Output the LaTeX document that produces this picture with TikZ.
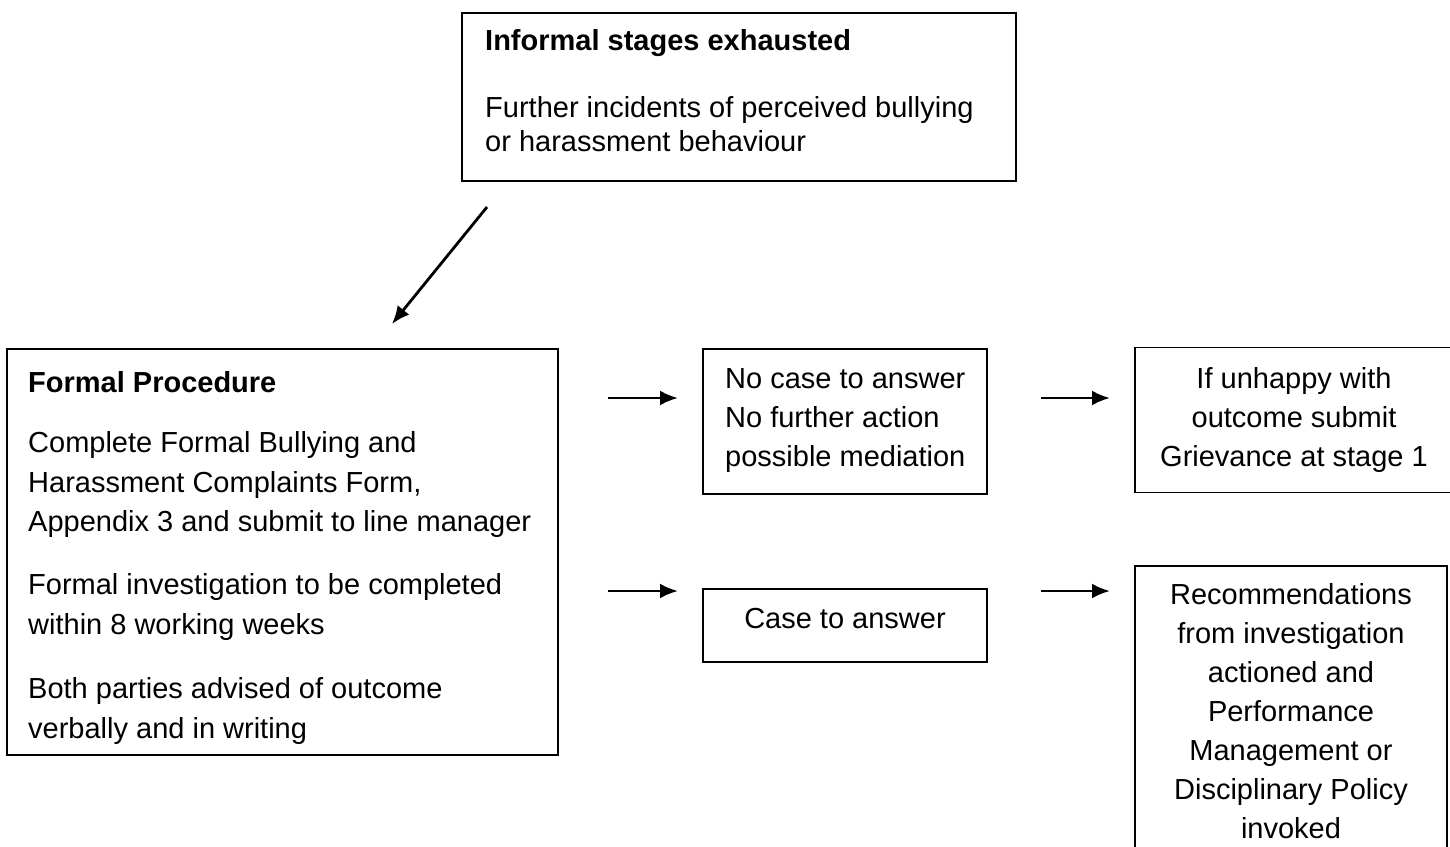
\documentclass[tikz,border=0pt]{standalone}
\usepackage{fontspec}
\setmainfont{Liberation Sans}
\usetikzlibrary{arrows.meta}
\tikzset{
	box/.style={draw, line width=1.8pt, inner sep=0pt},
	txt/.style={inner sep=0pt, align=left, anchor=north west, font=\fontsize{29}{39.5}\selectfont},
	ctxt/.style={box, align=center, font=\fontsize{29}{39}\selectfont},
	arr/.style={-{Latex[length=18pt,width=15pt]}, line width=2.8pt},
}

\begin{document}
\begin{tikzpicture}[x=1pt,y=-1pt]
	\useasboundingbox (0,0) rectangle (1450,846);
	\node[box, minimum width=554pt, minimum height=168pt] (informal) at (739,97) {};
	\node[txt, font=\fontsize{29}{34}\selectfont] (informaltxt) at (485,29.5) {\textbf{Informal stages exhausted}\\[33pt] Further incidents of perceived bullying\\ or harassment behaviour};
	\node[box, minimum width=551pt, minimum height=406pt] (formal) at (282.5,552) {};
	\node[txt] (formaltxt) at (28,371.5) {\textbf{Formal Procedure}\\[20.5pt] Complete Formal Bullying and\\ Harassment Complaints Form,\\ Appendix 3 and submit to line manager\\[23.5pt] Formal investigation to be completed\\ within 8 working weeks\\[25pt] Both parties advised of outcome\\ verbally and in writing};
	\node[box, minimum width=284pt, minimum height=145pt] (nocase) at (845,421.5) {};
	\node[txt, font=\fontsize{29}{39}\selectfont] (nocasetxt) at (725,368.5) {No case to answer\\ No further action\\ possible mediation};
	\node[ctxt, minimum width=318pt, minimum height=145pt] (unhappy) at (1294,420) {If unhappy with\\ outcome submit\\ Grievance at stage 1};
	\node[ctxt, minimum width=284pt, minimum height=73pt, text depth=14pt] (case) at (845,625.5) {Case to answer};
	\node[ctxt, minimum width=312pt, minimum height=291pt] (recomm) at (1291,711.5) {Recommendations\\ from investigation\\ actioned and\\ Performance\\ Management or\\ Disciplinary Policy\\ invoked};
	\coordinate (d1) at (487,207);
	\coordinate (d2) at (392,324);
	\coordinate (a1) at (608,398);
	\coordinate (a2) at (678,398);
	\coordinate (b1) at (1041,398);
	\coordinate (b2) at (1110,398);
	\coordinate (c1) at (608,591);
	\coordinate (c2) at (678,591);
	\coordinate (e1) at (1041,591);
	\coordinate (e2) at (1110,591);
	\draw[arr] (d1) -- (d2);
	\draw[arr] (a1) -- (a2);
	\draw[arr] (b1) -- (b2);
	\draw[arr] (c1) -- (c2);
	\draw[arr] (e1) -- (e2);
\end{tikzpicture}
\end{document}
